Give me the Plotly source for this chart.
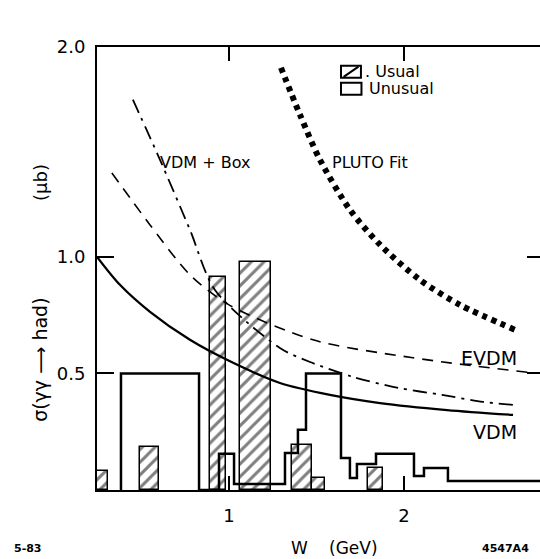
import plotly.graph_objects as go

# ---------------- data ----------------
# hatched "Usual" histogram bars (W edges in GeV, sigma in microbarn)
usual_left = [0.246, 0.491, 0.891, 1.063, 1.360, 1.474, 1.794]
usual_right = [0.309, 0.600, 0.983, 1.240, 1.474, 1.549, 1.880]
usual_height = [0.082, 0.185, 0.914, 0.979, 0.193, 0.052, 0.094]

# open "Unusual" histogram (step outline): bin edges and levels
unusual_edges = [0.383, 0.829, 0.943, 1.029, 1.320, 1.394, 1.440, 1.640,
                 1.691, 1.731, 1.840, 2.057, 2.114, 2.251, 2.777]
unusual_levels = [0.50, 0.0, 0.155, 0.026, 0.159, 0.258, 0.50, 0.137,
                  0.052, 0.112, 0.155, 0.060, 0.094, 0.039]

# model curves
vdm_w = [0.246, 0.377, 0.549, 0.777, 1.0, 1.291, 1.577, 1.863, 2.246, 2.623]
vdm_s = [1.0, 0.88, 0.764, 0.644, 0.554, 0.459, 0.408, 0.373, 0.343, 0.322]

evdm_w = [0.331, 0.549, 0.777, 1.0, 1.48, 2.051, 2.737]
evdm_s = [1.36, 1.137, 0.923, 0.794, 0.644, 0.567, 0.502]

box_w = [0.451, 0.606, 0.777, 0.92, 1.291, 1.463, 1.709, 1.966, 2.217, 2.451, 2.623]
box_s = [1.674, 1.416, 1.116, 0.858, 0.609, 0.549, 0.485, 0.438, 0.408, 0.378, 0.365]

pluto_w = [1.297, 1.406, 1.52, 1.691, 1.863, 2.091, 2.32, 2.634]
pluto_s = [1.811, 1.609, 1.416, 1.202, 1.052, 0.901, 0.794, 0.687]

x_ticks = [1, 2]
x_ticktext = ["1", "2"]
y_ticks = [0.5, 1.0, 1.9]
y_ticktext = ["0.5", "1.0", "2.0"]

X_RANGE = [0.246, 2.777]
Y_RANGE = [0.0, 1.9]
FONT = "DejaVu Sans"

fig = go.Figure()

# hatched bars
fig.add_trace(go.Bar(
    x=[(l + r) / 2 for l, r in zip(usual_left, usual_right)],
    y=usual_height,
    width=[r - l for l, r in zip(usual_left, usual_right)],
    marker=dict(color="white",
                line=dict(color="black", width=1.5),
                pattern=dict(shape="/", fgcolor="black", bgcolor="white",
                             size=9, solidity=0.33)),
    showlegend=False, hoverinfo="skip"))

# unusual step outline
step_x = [unusual_edges[0]] + unusual_edges
step_y = [0] + unusual_levels + [unusual_levels[-1]]
fig.add_trace(go.Scatter(x=step_x, y=step_y, mode="lines",
                         line=dict(color="black", width=2.5, shape="hv"),
                         showlegend=False, hoverinfo="skip"))

# curves
fig.add_trace(go.Scatter(x=vdm_w, y=vdm_s, mode="lines",
                         line=dict(color="black", width=2.3, shape="spline",
                                   smoothing=0.8),
                         showlegend=False))
fig.add_trace(go.Scatter(x=evdm_w, y=evdm_s, mode="lines",
                         line=dict(color="black", width=1.6, shape="spline",
                                   smoothing=0.8, dash="11px,8px"),
                         showlegend=False))
fig.add_trace(go.Scatter(x=box_w, y=box_s, mode="lines",
                         line=dict(color="black", width=1.8, shape="spline",
                                   smoothing=0.8, dash="14px,6px,3px,6px"),
                         showlegend=False))
fig.add_trace(go.Scatter(x=pluto_w, y=pluto_s, mode="lines",
                         line=dict(color="black", width=6, shape="spline",
                                   smoothing=0.8, dash="5px,5px"),
                         showlegend=False))

# invisible trace for right-side tick axis
fig.add_trace(go.Scatter(x=[X_RANGE[0]], y=[0], yaxis="y2", mode="markers",
                         marker=dict(opacity=0), showlegend=False,
                         hoverinfo="skip"))

fig.update_layout(
    width=540, height=559,
    margin=dict(l=97, r=0, t=47, b=69),
    paper_bgcolor="white", plot_bgcolor="white",
    barmode="overlay", bargap=0,
    font=dict(family=FONT, color="black", size=15),
    xaxis=dict(range=X_RANGE, tickvals=x_ticks, ticktext=x_ticktext,
               ticks="inside", ticklen=14, tickwidth=1.5, tickcolor="black",
               showline=True, linecolor="black", linewidth=2,
               mirror="ticks", showgrid=False, zeroline=False,
               ticklabelstandoff=8, tickfont=dict(size=18)),
    yaxis=dict(range=Y_RANGE, tickvals=y_ticks, ticktext=y_ticktext,
               ticks="inside", ticklen=17, tickwidth=1.5, tickcolor="black",
               showline=True, linecolor="black", linewidth=2,
               showgrid=False, zeroline=False, tickfont=dict(size=18),
               ticklabelstandoff=6),
    yaxis2=dict(range=Y_RANGE, overlaying="y", side="right",
                tickvals=[0.5, 1.0], ticks="inside", ticklen=13,
                tickwidth=1.5, tickcolor="black", showticklabels=False,
                showline=False, showgrid=False, zeroline=False),
)

labels = [
    (0.863, 1.403, "VDM + Box", 16),
    (1.806, 1.403, "PLUTO Fit", 16),
    (2.486, 0.567, "EVDM", 19),
    (2.52, 0.249, "VDM", 19),
]
for lx, ly, txt, sz in labels:
    fig.add_annotation(x=lx, y=ly, xref="x", yref="y", text=txt,
                       showarrow=False, xanchor="center", yanchor="middle",
                       font=dict(size=sz, family=FONT))

# legend text
fig.add_annotation(x=1.766, y=1.794, xref="x", yref="y", xanchor="left",
                   yanchor="middle", text=". Usual", showarrow=False,
                   font=dict(size=16))
fig.add_annotation(x=1.789, y=1.721, xref="x", yref="y", xanchor="left",
                   yanchor="middle", text="Unusual", showarrow=False,
                   font=dict(size=16))
# legend icons
fig.add_shape(type="rect", x0=1.64, x1=1.754, y0=1.768, y1=1.820,
              line=dict(color="black", width=2), xref="x", yref="y")
fig.add_shape(type="line", x0=1.655, x1=1.74, y0=1.772, y1=1.816,
              line=dict(color="black", width=2), xref="x", yref="y")
fig.add_shape(type="rect", x0=1.64, x1=1.757, y0=1.695, y1=1.747,
              line=dict(color="black", width=2), xref="x", yref="y")

# axis titles
fig.add_annotation(x=-0.129, y=0.2935, xref="paper", yref="paper",
                   xanchor="center", yanchor="middle",
                   text="σ(γγ ⟶ had)", textangle=-90, showarrow=False,
                   font=dict(size=19))
fig.add_annotation(x=-0.129, y=0.695, xref="paper", yref="paper",
                   xanchor="center", yanchor="middle",
                   text="(μb)", textangle=-90, showarrow=False,
                   font=dict(size=18))
fig.add_annotation(x=0.458, y=-0.131, xref="paper", yref="paper",
                   xanchor="center", yanchor="middle",
                   text="W", showarrow=False, font=dict(size=17))
fig.add_annotation(x=0.578, y=-0.131, xref="paper", yref="paper",
                   xanchor="center", yanchor="middle",
                   text="(GeV)", showarrow=False, font=dict(size=17))
fig.add_annotation(x=-0.156, y=-0.131, xref="paper", yref="paper",
                   xanchor="center", yanchor="middle",
                   text="<b>5-83</b>", showarrow=False, font=dict(size=11))
fig.add_annotation(x=0.8646, y=-0.131, xref="paper", yref="paper",
                   xanchor="left", yanchor="middle",
                   text="<b>4547A4</b>", showarrow=False,
                   font=dict(size=11))

fig.write_html(
    "out.html",
    config={"displayModeBar": False},
    post_script="document.body.style.margin='0px';"
                "document.body.style.overflow='hidden';")
